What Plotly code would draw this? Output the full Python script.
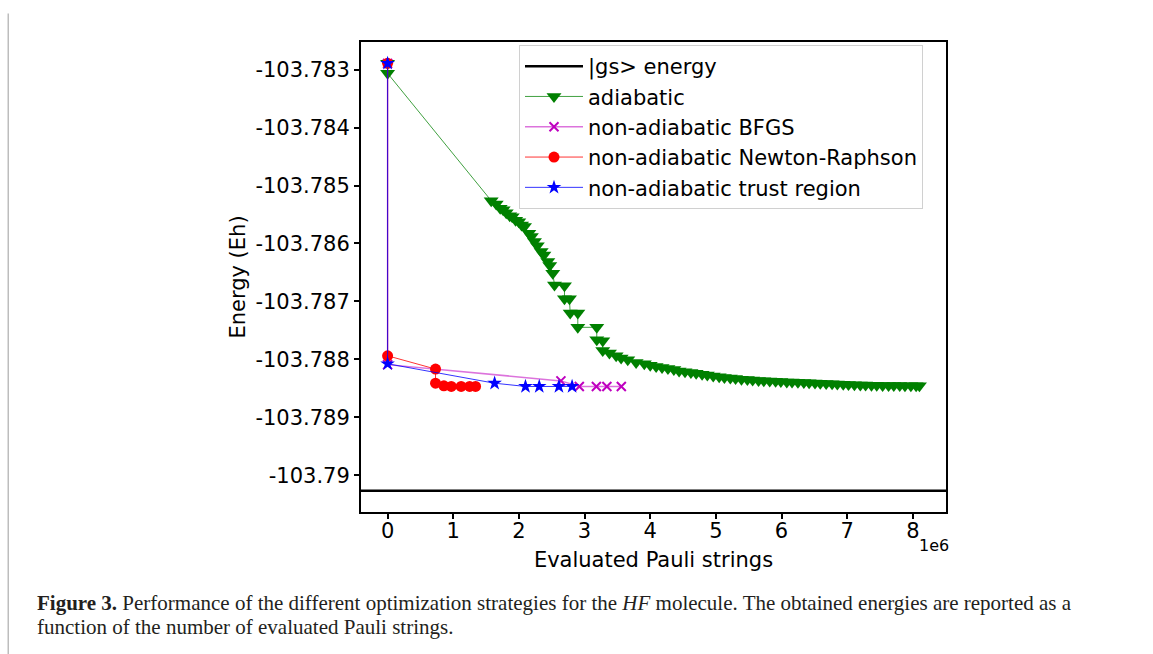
import plotly.graph_objects as go

# ---------------- data ----------------
GS_ENERGY = -103.790263

ADIABATIC_X = [0, 0, 1.578, 1.654, 1.715, 1.760, 1.807, 1.860, 1.898, 1.950, 1.998, 2.040,
               2.085, 2.151, 2.190, 2.237, 2.280, 2.339, 2.380, 2.440, 2.470, 2.516, 2.542,
               2.694, 2.694, 2.770, 2.781, 2.897, 2.897, 3.186, 3.186, 3.277, 3.277, 3.379,
               3.481, 3.557, 3.658, 3.785, 3.91, 4.00, 4.09, 4.18, 4.27, 4.36, 4.44, 4.53,
               4.62, 4.70, 4.79, 4.87, 4.96, 5.05, 5.13, 5.22, 5.30, 5.39, 5.48, 5.56, 5.65,
               5.73, 5.82, 5.91, 5.99, 6.08, 6.16, 6.25, 6.34, 6.42, 6.51, 6.59, 6.68, 6.77,
               6.85, 6.94, 7.02, 7.11, 7.20, 7.28, 7.37, 7.45, 7.54, 7.63, 7.71, 7.80, 7.88,
               7.97, 8.05, 8.10]
ADIABATIC_Y = [-103.782893, -103.783065, -103.785261, -103.785318, -103.785392, -103.785420,
               -103.785468, -103.785520, -103.785537, -103.785600, -103.785623, -103.785680,
               -103.785709, -103.785823, -103.785880, -103.785967, -103.786040, -103.786140,
               -103.786200, -103.786312, -103.786380, -103.786512, -103.786714, -103.786731,
               -103.786955, -103.786955, -103.787201, -103.787201, -103.787446, -103.787446,
               -103.787661, -103.787679, -103.787846, -103.787891, -103.787937, -103.787977,
               -103.788006, -103.788053, -103.788075, -103.788100, -103.788120, -103.788140,
               -103.788158, -103.788175, -103.788200, -103.788212, -103.788226, -103.788240,
               -103.788255, -103.788270, -103.788285, -103.788298, -103.788310, -103.788320,
               -103.788330, -103.788340, -103.788348, -103.788355, -103.788362, -103.788368,
               -103.788373, -103.788378, -103.788382, -103.788387, -103.788391, -103.788395,
               -103.788399, -103.788403, -103.788407, -103.788411, -103.788415, -103.788419,
               -103.788423, -103.788430, -103.788434, -103.788437, -103.788440, -103.788442,
               -103.788444, -103.788446, -103.788448, -103.788449, -103.788450, -103.788451,
               -103.788452, -103.788453, -103.788454, -103.788455]

BFGS_X = [0, 0, 2.64, 2.92, 3.18, 3.34, 3.56]
BFGS_Y = [-103.782893, -103.788090, -103.788370, -103.788466, -103.788466, -103.788466,
          -103.788466]

NEWTON_X = [0, 0, 0.73, 0.73, 0.857, 0.97, 1.12, 1.25, 1.34]
NEWTON_Y = [-103.782893, -103.787937, -103.788166, -103.788410, -103.788455, -103.788466,
            -103.788466, -103.788466, -103.788466]

TRUST_X = [0, 0, 1.63, 2.10, 2.31, 2.61, 2.81]
TRUST_Y = [-103.782893, -103.788075, -103.788410, -103.788466, -103.788466, -103.788466,
           -103.788466]

SERIES_NAMES = ["|gs> energy", "adiabatic", "non-adiabatic BFGS",
                "non-adiabatic Newton-Raphson", "non-adiabatic trust region"]

X_TICK_VALUES = [0, 1, 2, 3, 4, 5, 6, 7, 8]
X_TICK_LABELS = ["0", "1", "2", "3", "4", "5", "6", "7", "8"]
Y_TICK_VALUES = [-103.783, -103.784, -103.785, -103.786, -103.787, -103.788, -103.789, -103.790]
Y_TICK_LABELS = ["-103.783", "-103.784", "-103.785", "-103.786", "-103.787", "-103.788",
                 "-103.789", "-103.79"]

X_TITLE = "Evaluated Pauli strings"
Y_TITLE = "Energy (Eh)"
X_SCALE_TEXT = "1e6"
CAPTION_LINE_1 = ("<b>Figure 3.</b> Performance of the different optimization strategies for the "
                  "<i>HF</i> molecule. The obtained energies are reported as a")
CAPTION_LINE_2 = "function of the number of evaluated Pauli strings."

# ---------------- figure ----------------
W, H = 1153, 654
L, R, T, B = 361, 946, 42, 512

def px(xp):
    return (xp - L) / (R - L)

def py(yp):
    return (B - yp) / (B - T)

# axis ranges with matplotlib-style 5% margins
all_x = ADIABATIC_X + BFGS_X + NEWTON_X + TRUST_X
all_y = ADIABATIC_Y + BFGS_Y + NEWTON_Y + TRUST_Y + [GS_ENERGY]
xmin, xmax = min(all_x), max(all_x)
ymin, ymax = min(all_y), max(all_y)
xpad = (xmax - xmin) * 0.05
ypad = (ymax - ymin) * 0.05

fig = go.Figure()

fig.add_hline(y=GS_ENERGY, line=dict(color="black", width=2.5), layer="below")
fig.add_trace(go.Scatter(x=[None], y=[None], mode="lines", name=SERIES_NAMES[0],
                         line=dict(color="black", width=2.5)))

fig.add_trace(go.Scatter(x=ADIABATIC_X, y=ADIABATIC_Y, mode="lines+markers",
                         name=SERIES_NAMES[1],
                         line=dict(color="rgba(0,128,0,0.75)", width=1),
                         marker=dict(symbol="triangle-down", size=13, color="#008000",
                                     line=dict(width=0))))
fig.add_trace(go.Scatter(x=BFGS_X, y=BFGS_Y, mode="lines+markers",
                         name=SERIES_NAMES[2],
                         line=dict(color="rgba(191,0,191,0.55)", width=1.5),
                         marker=dict(symbol="x-thin", size=9, color="#bf00bf",
                                     line=dict(width=2, color="#bf00bf"))))
fig.add_trace(go.Scatter(x=NEWTON_X, y=NEWTON_Y, mode="lines+markers",
                         name=SERIES_NAMES[3],
                         line=dict(color="rgba(255,0,0,0.8)", width=1),
                         marker=dict(symbol="circle", size=11, color="#ff0000",
                                     line=dict(width=0))))
fig.add_trace(go.Scatter(x=TRUST_X, y=TRUST_Y, mode="lines+markers",
                         name=SERIES_NAMES[4],
                         line=dict(color="rgba(0,0,255,0.8)", width=1),
                         marker=dict(symbol="star", size=11, color="#0000ff",
                                     line=dict(width=0))))

tick_font = dict(family="DejaVu Sans", size=21, color="black")

fig.update_xaxes(range=[xmin - xpad, xmax + xpad], tickvals=X_TICK_VALUES,
                 ticktext=X_TICK_LABELS, ticks="outside", ticklen=5, tickwidth=1.5,
                 tickcolor="black", showline=True, linecolor="black", linewidth=2,
                 mirror=True, showgrid=False, zeroline=False, tickfont=tick_font,
                 ticklabelstandoff=-6,
                 title=dict(text=X_TITLE, font=dict(family="DejaVu Sans", size=21, color="black"),
                            standoff=10))
fig.update_yaxes(range=[ymin - ypad, ymax + ypad], tickvals=Y_TICK_VALUES,
                 ticktext=Y_TICK_LABELS, ticks="outside", ticklen=5, tickwidth=1.5,
                 tickcolor="black", showline=True, linecolor="black", linewidth=2,
                 mirror=True, showgrid=False, zeroline=False, tickfont=tick_font,
                 title=dict(text=Y_TITLE, font=dict(family="DejaVu Sans", size=21, color="black"),
                            standoff=4))

caption_font = dict(family="Liberation Serif", size=21, color="#231f20")

fig.update_layout(
    width=W, height=H,
    margin=dict(l=L, r=W - R, t=T, b=H - B, autoexpand=False),
    paper_bgcolor="white", plot_bgcolor="white",
    showlegend=True,
    legend=dict(x=px(519), y=py(45), xanchor="left", yanchor="top",
                bgcolor="rgba(255,255,255,0.85)", bordercolor="#d0d0d0", borderwidth=1,
                font=dict(family="DejaVu Sans", size=21, color="black"),
                itemwidth=58, tracegroupgap=0),
    annotations=[
        dict(text=X_SCALE_TEXT, xref="paper", yref="paper", x=px(951), y=py(534),
             xanchor="right", yanchor="top", showarrow=False,
             font=dict(family="DejaVu Sans", size=16, color="black")),
        dict(text=CAPTION_LINE_1, xref="paper", yref="paper", x=px(35), y=py(603),
             xanchor="left", yanchor="middle", align="left", showarrow=False,
             font=caption_font),
        dict(text=CAPTION_LINE_2, xref="paper", yref="paper", x=px(35), y=py(627),
             xanchor="left", yanchor="middle", align="left", showarrow=False,
             font=caption_font),
    ],
    shapes=[
        dict(type="rect", xref="paper", yref="paper", x0=px(0), x1=px(W), y0=py(15), y1=py(13.5),
             line=dict(width=0), fillcolor="#bdbdbd"),
        dict(type="rect", xref="paper", yref="paper", x0=px(7.5), x1=px(9), y0=py(H), y1=py(13.5),
             line=dict(width=0), fillcolor="#bdbdbd"),
    ],
)

fig.write_html("out.html", config={"displayModeBar": False},
               post_script="document.body.style.margin='0';")
